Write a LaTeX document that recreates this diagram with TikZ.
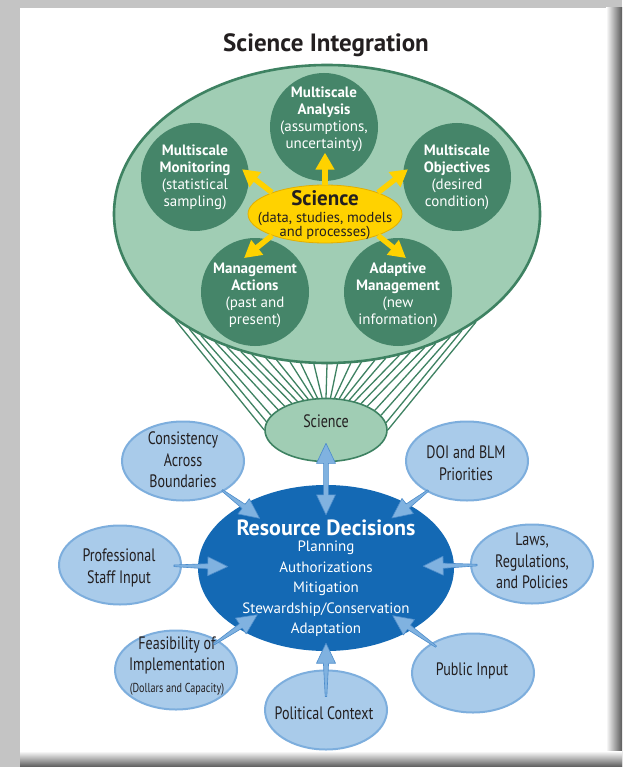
\documentclass[tikz,border=0pt]{standalone}
\usepackage{fontspec}
\setmainfont{PT Sans}
\newfontfamily\narrowfont[FakeStretch=0.78]{PT Sans}
\usetikzlibrary{shapes.geometric,calc,arrows.meta}

\definecolor{stonegray}{HTML}{C4C4C4}
\definecolor{sagelight}{HTML}{A0CDB4}
\definecolor{sagedark}{HTML}{3E8262}
\definecolor{pinegreen}{HTML}{458569}
\definecolor{sciyellow}{HTML}{FFD200}
\definecolor{sciorange}{HTML}{E3AE00}
\definecolor{decblue}{HTML}{1469B4}
\definecolor{skyfill}{HTML}{A9CBEA}
\definecolor{skyline}{HTML}{7DAEDD}
\definecolor{arrowfill}{HTML}{80B2E0}
\definecolor{arrowline}{HTML}{4C8CCB}
\definecolor{inkdark}{HTML}{231F20}

\tikzset{
  headline/.style={font=\bfseries\fontsize{25}{28}\selectfont, text=inkdark, inner sep=0pt},
  bigoval/.style={ellipse, draw=sagedark, line width=2.6pt, fill=sagelight, minimum width=426pt, minimum height=298pt, inner sep=0pt},
  topic/.style={circle, fill=pinegreen, minimum size=108pt, inner sep=0pt},
  topictxt/.style={align=center, text=white, font=\fontsize{15}{17}\selectfont, inner sep=0pt},
  hub/.style={ellipse, draw=sciorange, line width=0.8pt, fill=sciyellow, minimum width=154pt, minimum height=58pt, inner sep=0pt},
  hubtxt/.style={align=center, text=inkdark, inner sep=0pt},
  yarrow/.style={draw=sciyellow, line width=5.5pt, line cap=butt, -{Triangle[length=17pt,width=18pt]}},
  fan/.style={draw=sagedark, line width=1.3pt},
  scioval/.style={ellipse, draw=sagedark, line width=1.6pt, fill=sagelight, minimum width=122pt, minimum height=63pt, inner sep=0pt},
  decoval/.style={ellipse, fill=decblue, minimum width=256pt, minimum height=166pt, inner sep=0pt},
  dectxt/.style={align=center, text=white, inner sep=0pt},
  sideoval/.style={ellipse, draw=skyline, line width=2pt, fill=skyfill, minimum width=122pt, minimum height=79pt, inner sep=0pt},
  sidetxt/.style={align=center, text=inkdark, font=\narrowfont\fontsize{18}{21.5}\selectfont, inner sep=0pt},
  arrowpoly/.style={fill=arrowfill, draw=arrowline, line width=0.6pt},
}

% tapered blue arrow from coordinate #1 (tail) to coordinate #2 (tip)
\newcommand\tapered[2]{%
  \coordinate (hb) at ($(#2)!20pt!(#1)$);
  \filldraw[arrowpoly] ($(#1)!0.8pt!90:(#2)$) -- ($(hb)!2.6pt!90:(#2)$) -- ($(hb)!9.5pt!90:(#2)$) -- (#2)
    -- ($(hb)!9.5pt!-90:(#2)$) -- ($(hb)!2.6pt!-90:(#2)$) -- ($(#1)!0.8pt!-90:(#2)$) -- cycle;}
% node #1 feeds node #2; #3 and #4 push the ends into the nodes
\newcommand\feed[4]{%
  \path (#1) -- (#2) coordinate[pos=0] (fa) coordinate[pos=1] (fb);
  \coordinate (fs) at ($(fa)!-#3!(fb)$);
  \coordinate (ft) at ($(fb)!-#4!(fa)$);
  \tapered{fs}{ft}}
% two headed version
\newcommand\twoway[4]{%
  \path (#1) -- (#2) coordinate[pos=0] (fa) coordinate[pos=1] (fb);
  \coordinate (fs) at ($(fa)!-#3!(fb)$);
  \coordinate (ft) at ($(fb)!-#4!(fa)$);
  \coordinate (hs) at ($(fs)!20pt!(ft)$);
  \coordinate (ht) at ($(ft)!20pt!(fs)$);
  \filldraw[arrowpoly] (fs) -- ($(hs)!9.5pt!90:(ft)$) -- ($(hs)!2.4pt!90:(ft)$) -- ($(ht)!2.4pt!90:(ft)$)
    -- ($(ht)!9.5pt!90:(ft)$) -- (ft) -- ($(ht)!9.5pt!-90:(ft)$) -- ($(ht)!2.4pt!-90:(ft)$)
    -- ($(hs)!2.4pt!-90:(ft)$) -- ($(hs)!9.5pt!-90:(ft)$) -- cycle;}

\begin{document}
\begin{tikzpicture}[x=1pt,y=-1pt,line join=round,line cap=round]
\useasboundingbox (0,0) rectangle (622,767);
% stone frame and panel
\fill[stonegray] (0,0) rectangle (622,767);
\shade[left color=white, right color=black!65] (606,8) rectangle (622,767);
\shade[top color=white, bottom color=black!65] (20,751) rectangle (622,767);
\fill[white] (20,8) rectangle (607,752);

\node[headline] (title) at (326,45) {Science Integration};

% upper oval and funnel
\node[bigoval] (big) at (327,214) {};
\node[scioval] (sci) at (326,430) {};
\foreach \i in {0,...,24}
  \draw[fan] (big.{215.5+\i*109/24}) -- (sci.{180-\i*180/24});
\node[sidetxt] (scitxt) at (326,421) {Science};

\node[topic] (ana) at (324,127) {};
\node[topic] (mon) at (195,177) {};
\node[topic] (obj) at (457,177) {};
\node[topic] (act) at (255,292) {};
\node[topic] (ada) at (398,292) {};
\node[topictxt] (anatxt) at (324,119) {\textbf{Multiscale}\\\textbf{Analysis}\\(assumptions,\\uncertainty)};
\node[topictxt] (montxt) at (195,177) {\textbf{Multiscale}\\\textbf{Monitoring}\\(statistical\\sampling)};
\node[topictxt] (objtxt) at (457,177) {\textbf{Multiscale}\\\textbf{Objectives}\\(desired\\condition)};
\node[topictxt] (acttxt) at (255,295) {\textbf{Management}\\\textbf{Actions}\\(past and\\present)};
\node[topictxt] (adatxt) at (398,295) {\textbf{Adaptive}\\\textbf{Management}\\(new\\information)};

\node[hub] (hub) at (325,214) {};
\draw[yarrow] (hub.90) -- ++(90:32pt);
\draw[yarrow] (hub.158) -- ++(142:38pt);
\draw[yarrow] (hub.22) -- ++(38:38pt);
\draw[yarrow] (hub.202) -- ++(219:36pt);
\draw[yarrow] (hub.338) -- ++(321:36pt);
\node[hubtxt, font=\bfseries\fontsize{21}{22}\selectfont] (hubtitle) at (325,198.5) {Science};
\node[hubtxt, font=\fontsize{14.5}{14}\selectfont] (hubsub) at (325,226) {(data, studies, models\\and processes)};

% resource decisions and its inputs
\node[decoval] (rd) at (326,568) {};
\node[sideoval] (cab) at (183,461) {};
\node[sideoval] (doi) at (467,461) {};
\node[sideoval] (pro) at (120,565) {};
\node[sideoval] (law) at (532,564) {};
\node[sideoval] (fea) at (176,670) {};
\node[sideoval] (pub) at (473,673) {};
\node[sideoval] (pol) at (326,710) {};

\node[dectxt, font=\bfseries\fontsize{22}{24}\selectfont] (rdtitle) at (326,528) {Resource Decisions};
\node[dectxt, font=\fontsize{15}{20.5}\selectfont] (rdlist) at (326,589) {Planning\\Authorizations\\Mitigation\\Stewardship/Conservation\\Adaptation};

\node[sidetxt] (cabtxt) at (183,460) {Consistency\\Across\\Boundaries};
\node[sidetxt] (doitxt) at (466,463) {DOI and BLM\\Priorities};
\node[sidetxt] (protxt) at (119,568) {Professional\\Staff Input};
\node[sidetxt] (lawtxt) at (532,561) {Laws,\\Regulations,\\and Policies};
\node[sidetxt] (featxt) at (177,666) {Feasibility of\\Implementation\\{\fontsize{13}{15}\selectfont(Dollars and Capacity)}};
\node[sidetxt] (pubtxt) at (472,671) {Public Input};
\node[sidetxt] (poltxt) at (324,713) {Political Context};

\twoway{sci}{rd}{19pt}{30pt}
\feed{cab}{rd}{2pt}{22pt}
\feed{doi}{rd}{2pt}{22pt}
\feed{pro}{rd}{8pt}{30pt}
\feed{law}{rd}{7pt}{31pt}
\feed{fea}{rd}{6pt}{24pt}
\feed{pub}{rd}{6pt}{24pt}
\feed{pol}{rd}{27pt}{8pt}
\end{tikzpicture}
\end{document}
